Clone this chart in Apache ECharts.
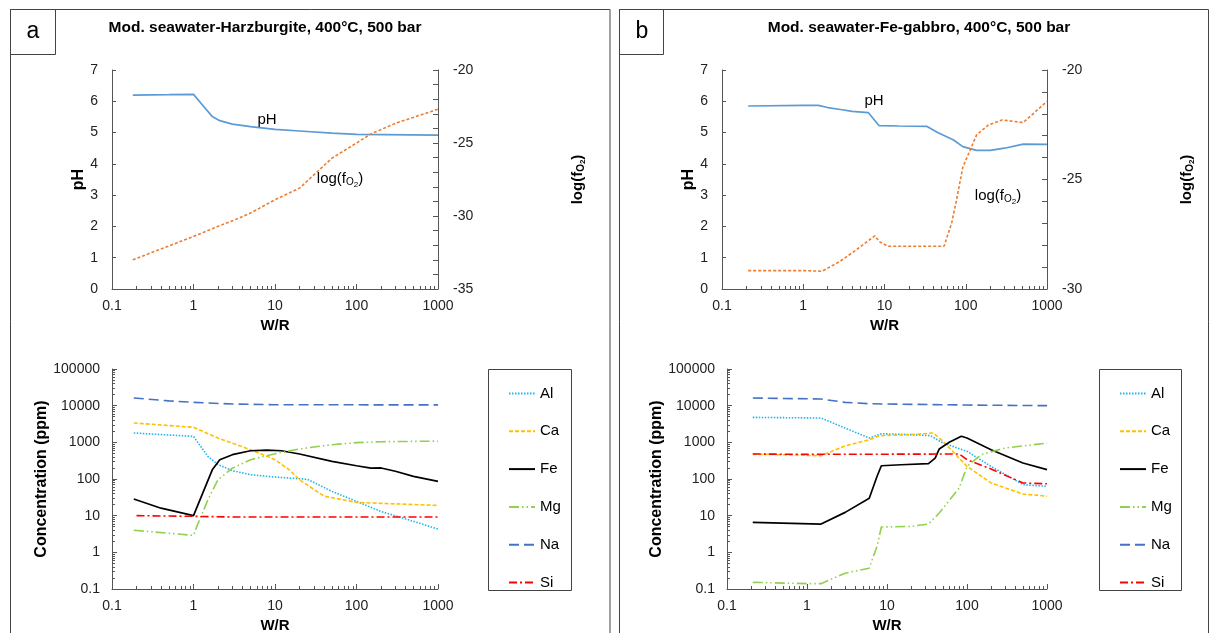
<!DOCTYPE html>
<html><head><meta charset="utf-8">
<script src="https://cdn.jsdelivr.net/npm/echarts@6/dist/echarts.min.js"></script>
<style>html,body{margin:0;padding:0;background:#fff}#c{width:1211px;height:633px}</style>
</head><body><div id="c"></div>
<script>
const FONT = '"Liberation Sans", Arial, Helvetica, sans-serif';

// ---- Panel a, top: pH and log(fO2) vs W/R ----
const A_PH_X = [0.18, 0.5, 1.0, 1.32, 1.7, 2.1, 3, 5, 10, 20, 50, 100, 1000];
const A_PH_Y = [6.2, 6.21, 6.22, 5.85, 5.51, 5.38, 5.27, 5.19, 5.1, 5.05, 4.98, 4.94, 4.92];
const A_FO2_X = [0.18, 1, 2, 3, 5, 10, 20, 30, 50, 100, 150, 300, 1000];
const A_FO2_Y = [-33.0, -31.4, -30.71, -30.33, -29.8, -28.89, -28.09, -27.18, -26.04, -25.0, -24.38, -23.65, -22.69];

// ---- Panel b, top ----
const B_PH_X = [0.21, 1, 1.53, 2, 3, 4, 6.3, 8.6, 15, 33, 45, 70, 92, 136, 200, 300, 510, 1000];
const B_PH_Y = [5.85, 5.87, 5.87, 5.8, 5.73, 5.68, 5.64, 5.22, 5.21, 5.2, 5.0, 4.77, 4.55, 4.43, 4.43, 4.5, 4.63, 4.62];
const B_FO2_X = [0.21, 1, 1.7, 2.83, 4.5, 7.6, 8.6, 11, 54, 67, 77, 92, 136, 190, 280, 510, 1000];
const B_FO2_Y = [-29.16, -29.16, -29.19, -28.74, -28.21, -27.57, -27.83, -28.05, -28.05, -27.0, -25.93, -24.44, -22.96, -22.51, -22.28, -22.4, -21.43];

// ---- Panel a, bottom: concentrations (ppm) ----
const A_AL_X = [0.185, 1, 1.5, 2, 3, 5, 10, 25, 50, 100, 200, 500, 1000];
const A_AL_Y = [1800, 1450, 415, 247, 169, 131, 113, 98, 46, 24.5, 13, 7, 4.3];
const A_CA_X = [0.185, 1, 2, 5, 10, 15, 20, 40, 100, 200, 1000];
const A_CA_Y = [3370, 2570, 1310, 630, 336, 178, 95, 34, 23, 21.7, 19];
const A_FE_X = [0.185, 0.4, 1, 1.2, 1.7, 2.1, 3, 5, 8, 12, 20, 50, 100, 150, 200, 300, 500, 1000];
const A_FE_Y = [28.5, 16, 10, 27, 178, 336, 460, 590, 615, 590, 480, 303, 230, 198, 200, 163, 118, 86];
const A_MG_X = [0.185, 1, 1.1, 1.5, 2, 3, 5, 10, 20, 50, 100, 200, 1000];
const A_MG_Y = [4.0, 2.9, 5.1, 27, 96, 198, 335, 490, 660, 863, 980, 1040, 1080];
const A_NA_X = [0.185, 0.5, 1, 3, 10, 1000];
const A_NA_Y = [16200, 13500, 12300, 11100, 10600, 10500];
const A_SI_X = [0.2, 1, 3, 1000];
const A_SI_Y = [10, 9.6, 9.2, 9.2];

// ---- Panel b, bottom ----
const B_AL_X = [0.21, 1.5, 3, 6, 8.5, 20, 35, 50, 100, 200, 500, 1000];
const B_AL_Y = [4800, 4600, 2450, 1310, 1720, 1620, 1520, 960, 570, 221, 70, 63];
const B_CA_X = [0.21, 1.5, 3, 6, 8, 20, 38, 50, 100, 200, 500, 1000];
const B_CA_Y = [480, 432, 800, 1170, 1520, 1620, 1800, 1070, 221, 78, 39, 34];
const B_FE_X = [0.21, 1.5, 3, 6, 7.5, 8.5, 15, 33, 40, 45, 60, 85, 100, 200, 500, 1000];
const B_FE_Y = [6.6, 5.9, 12.3, 30, 117, 230, 245, 262, 373, 660, 1000, 1460, 1310, 630, 273, 180];
const B_MG_X = [0.21, 1, 1.5, 3, 6, 7.5, 8.5, 20, 33, 45, 80, 100, 150, 300, 1000];
const B_MG_Y = [0.152, 0.14, 0.14, 0.27, 0.37, 1.46, 4.9, 5.1, 5.9, 11.8, 57, 221, 460, 700, 955];
const B_NA_X = [0.21, 1.5, 3, 6, 10, 100, 1000];
const B_NA_Y = [16200, 15200, 12300, 11300, 11100, 10400, 10000];
const B_SI_X = [0.21, 1, 80, 100, 200, 500, 1000];
const B_SI_Y = [480, 470, 480, 336, 187, 78, 74];

const ELEMENTS = ['Al', 'Ca', 'Fe', 'Mg', 'Na', 'Si'];
const TITLES = ['Mod. seawater-Harzburgite, 400°C, 500 bar', 'Mod. seawater-Fe-gabbro, 400°C, 500 bar'];

const zip = (xs, ys) => xs.map((x, i) => [x, ys[i]]);
const AXIS_COLOR = '#555';
const numFmt = v => String(+Number(v).toPrecision(6));

const STYLES = {
  Al: { color: '#1FB4F0', type: [1.5, 1.5] },
  Ca: { color: '#FFC000', type: [4, 2] },
  Fe: { color: '#000000', type: 'solid' },
  Mg: { color: '#92D050', type: [10, 3, 1.5, 3, 1.5, 3] },
  Na: { color: '#4472C4', type: [10, 5] },
  Si: { color: '#FF0000', type: [8, 3, 2, 3] }
};

function xLog(gridIndex) {
  return {
    type: 'log', logBase: 10, gridIndex, min: 0.1, max: 1000, interval: 1,
    name: 'W/R', nameLocation: 'middle', nameGap: 29,
    nameTextStyle: { fontFamily: FONT, fontWeight: 'bold', fontSize: 15, color: '#000' },
    axisLine: { show: true, onZero: false, lineStyle: { color: AXIS_COLOR, width: 1 } },
    axisTick: { show: true, inside: true, length: 5, lineStyle: { color: AXIS_COLOR } },
    minorTick: { show: true, splitNumber: 9, length: 3, lineStyle: { color: AXIS_COLOR } },
    axisLabel: { fontFamily: FONT, fontSize: 14, color: '#222', margin: 10, formatter: numFmt },
    splitLine: { show: false }, minorSplitLine: { show: false }
  };
}
function yPH(gridIndex) {
  return {
    type: 'value', gridIndex, min: 0, max: 7, interval: 1, position: 'left',
    name: 'pH', nameLocation: 'middle', nameGap: 14,
    nameTextStyle: { fontFamily: FONT, fontWeight: 'bold', fontSize: 16, color: '#000' },
    axisLine: { show: true, lineStyle: { color: AXIS_COLOR } },
    axisTick: { show: true, inside: true, length: 4, lineStyle: { color: AXIS_COLOR } },
    axisLabel: { fontFamily: FONT, fontSize: 14, color: '#222', margin: 14 },
    splitLine: { show: false }
  };
}
function yFO2(gridIndex, min) {
  return {
    type: 'value', gridIndex, min: min, max: -20, interval: 5, position: 'right',
    name: 'log(f{s|O}{ss|2})', nameLocation: 'middle', nameGap: 130,
    nameTextStyle: {
      fontFamily: FONT, fontWeight: 'bold', fontSize: 15, color: '#000',
      rich: {
        s: { fontFamily: FONT, fontWeight: 'bold', fontSize: 10, color: '#000', padding: [7, 0, 0, 0] },
        ss: { fontFamily: FONT, fontWeight: 'bold', fontSize: 8, color: '#000', padding: [11, 0, 0, 0] }
      }
    },
    axisLine: { show: true, lineStyle: { color: AXIS_COLOR } },
    axisTick: { show: true, inside: true, length: 5, lineStyle: { color: AXIS_COLOR } },
    minorTick: { show: true, splitNumber: 5, length: 5, lineStyle: { color: AXIS_COLOR } },
    axisLabel: { fontFamily: FONT, fontSize: 14, color: '#222', margin: 15 },
    splitLine: { show: false }
  };
}
function yConc(gridIndex, gap) {
  return {
    type: 'log', logBase: 10, gridIndex, min: 0.1, max: 100000, interval: 1,
    name: 'Concentration (ppm)', nameLocation: 'middle', nameGap: gap,
    nameTextStyle: { fontFamily: FONT, fontWeight: 'bold', fontSize: 16, color: '#000' },
    axisLine: { show: true, onZero: false, lineStyle: { color: AXIS_COLOR } },
    axisTick: { show: true, inside: true, length: 5, lineStyle: { color: AXIS_COLOR } },
    minorTick: { show: true, splitNumber: 9, length: 3, lineStyle: { color: AXIS_COLOR } },
    axisLabel: { fontFamily: FONT, fontSize: 14, color: '#222', margin: 12, formatter: numFmt },
    splitLine: { show: false }, minorSplitLine: { show: false }
  };
}

function lineSeries(name, data, xi, yi, color, type, width) {
  return {
    name, type: 'line', data, xAxisIndex: xi, yAxisIndex: yi,
    symbol: 'none', showSymbol: false, smooth: false,
    lineStyle: { color, type, width: width || 1.6 },
    itemStyle: { color },
    emphasis: { disabled: true }, silent: true, z: 3
  };
}

const concA = { Al: zip(A_AL_X, A_AL_Y), Ca: zip(A_CA_X, A_CA_Y), Fe: zip(A_FE_X, A_FE_Y),
  Mg: zip(A_MG_X, A_MG_Y), Na: zip(A_NA_X, A_NA_Y), Si: zip(A_SI_X, A_SI_Y) };
const concB = { Al: zip(B_AL_X, B_AL_Y), Ca: zip(B_CA_X, B_CA_Y), Fe: zip(B_FE_X, B_FE_Y),
  Mg: zip(B_MG_X, B_MG_Y), Na: zip(B_NA_X, B_NA_Y), Si: zip(B_SI_X, B_SI_Y) };

const series = [
  lineSeries('pH a', zip(A_PH_X, A_PH_Y), 0, 0, '#5B9BD5', 'solid', 1.7),
  lineSeries('fO2 a', zip(A_FO2_X, A_FO2_Y), 0, 1, '#ED7D31', [3, 2], 1.6),
  lineSeries('pH b', zip(B_PH_X, B_PH_Y), 1, 2, '#5B9BD5', 'solid', 1.7),
  lineSeries('fO2 b', zip(B_FO2_X, B_FO2_Y), 1, 3, '#ED7D31', [3, 2], 1.6)
];
ELEMENTS.forEach(el => {
  series.push(lineSeries(el, concA[el], 2, 4, STYLES[el].color, STYLES[el].type, el === 'Fe' ? 1.7 : 1.6));
  series.push(lineSeries(el, concB[el], 3, 5, STYLES[el].color, STYLES[el].type, el === 'Fe' ? 1.7 : 1.6));
});

function legendAt(left) {
  return {
    data: ELEMENTS, orient: 'vertical', left: left, top: 381,
    itemWidth: 26, itemHeight: 14, itemGap: 22.8, selectedMode: false,
    itemStyle: { opacity: 0 },
    textStyle: { fontFamily: FONT, fontSize: 15, color: '#000' }
  };
}

const RICH = {
  s: { fontFamily: FONT, fontSize: 10, fill: '#000', padding: [7, 0, 0, 0] },
  ss: { fontFamily: FONT, fontSize: 8, fill: '#000', padding: [11, 0, 0, 0] }
};
function txt(x, y, text, size, weight, rich) {
  return {
    type: 'text', x, y, silent: true, z: 10,
    style: { text, fill: '#000', font: (weight || 'normal') + ' ' + size + 'px ' + FONT,
      align: 'center', verticalAlign: 'middle', rich: rich }
  };
}
function rect(x, y, w, h) {
  return { type: 'rect', silent: true, z: 1, shape: { x, y, width: w, height: h },
    style: { fill: 'none', stroke: '#444', lineWidth: 1 } };
}

const option = {
  animation: false,
  backgroundColor: '#fff',
  grid: [
    { left: 112, top: 70, width: 326, height: 219, outerBoundsMode: 'none', containLabel: false },
    { left: 722, top: 70, width: 325, height: 219, outerBoundsMode: 'none', containLabel: false },
    { left: 112, top: 369, width: 326, height: 220, outerBoundsMode: 'none', containLabel: false },
    { left: 727, top: 369, width: 320, height: 220, outerBoundsMode: 'none', containLabel: false }
  ],
  xAxis: [xLog(0), xLog(1), xLog(2), xLog(3)],
  yAxis: [yPH(0), yFO2(0, -35), yPH(1), yFO2(1, -30), yConc(2, 55), yConc(3, 61)],
  legend: [legendAt(503), legendAt(1114)],
  series,
  graphic: [
    rect(10.5, 9.5, 599.5, 640), rect(619.5, 9.5, 589, 640),
    rect(10.5, 9.5, 45, 45), rect(619.5, 9.5, 44, 45),
    rect(488.5, 369.5, 83, 221), rect(1099.5, 369.5, 82, 221),
    txt(33, 32, 'a', 23), txt(642, 32, 'b', 23),
    txt(265, 28, TITLES[0], 15.5, 'bold'), txt(919, 28, TITLES[1], 15.5, 'bold'),
    txt(267, 120, 'pH', 15), txt(340, 179, 'log(f{s|O}{ss|2})', 15, 'normal', RICH),
    txt(874, 101, 'pH', 15), txt(998, 196, 'log(f{s|O}{ss|2})', 15, 'normal', RICH)
  ]
};

const chart = echarts.init(document.getElementById('c'), null, { renderer: 'canvas' });
chart.setOption(option);
</script>
</body></html>
